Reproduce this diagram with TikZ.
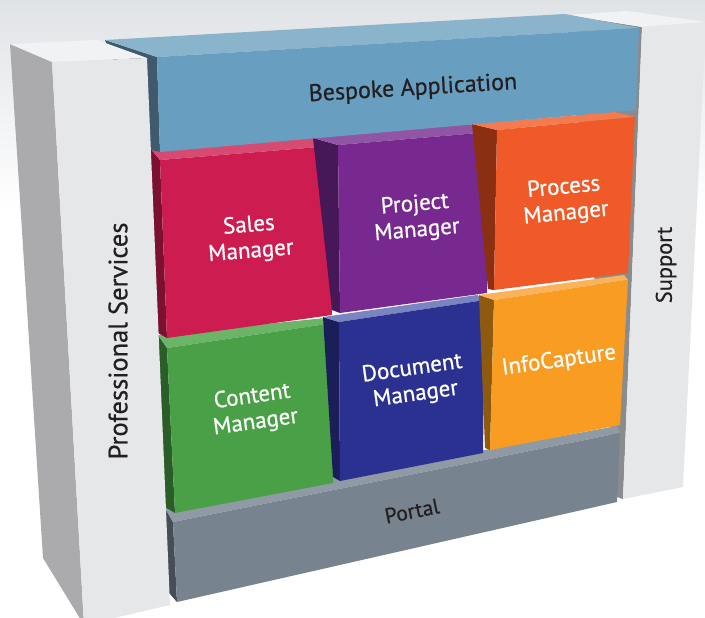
\documentclass[tikz,border=0pt]{standalone}
\usepackage{fontspec}
\setmainfont{PT Sans}[FakeBold=0.6]
\definecolor{bgTop}{HTML}{E0E3E6}
\definecolor{plF}{HTML}{E6E7E9}
\definecolor{plT}{HTML}{F1F2F4}
\definecolor{plS}{HTML}{ABABAD}
\definecolor{prS}{HTML}{8A8B8D}
\definecolor{bsF}{HTML}{689FC0}
\definecolor{bsT}{HTML}{8AB4CC}
\definecolor{bsS}{HTML}{3E5A6C}
\definecolor{saF}{HTML}{CD1D50}
\definecolor{saT}{HTML}{D74B72}
\definecolor{saS}{HTML}{7B1030}
\definecolor{pjF}{HTML}{77298F}
\definecolor{pjT}{HTML}{9155A5}
\definecolor{pjS}{HTML}{461857}
\definecolor{pcF}{HTML}{F05A28}
\definecolor{pcT}{HTML}{F47A50}
\definecolor{pcS}{HTML}{8A2F12}
\definecolor{ctF}{HTML}{49A046}
\definecolor{ctT}{HTML}{6CB468}
\definecolor{ctS}{HTML}{2B5D29}
\definecolor{dcF}{HTML}{2B3190}
\definecolor{dcT}{HTML}{7A84C0}
\definecolor{dcS}{HTML}{1A1F5A}
\definecolor{icF}{HTML}{F89D21}
\definecolor{icT}{HTML}{FAB35A}
\definecolor{icS}{HTML}{8E5A10}
\definecolor{poF}{HTML}{77838F}
\definecolor{poT}{HTML}{8F9AA5}
\definecolor{poS}{HTML}{454D56}
\definecolor{txtDark}{HTML}{231F20}
\begin{document}
\begin{tikzpicture}[x=1pt,y=-1pt,
  boxlabel/.style={font=\fontsize{23}{26}\selectfont, text=white, align=center, inner sep=0pt},
  darklabel/.style={text=txtDark, align=center, inner sep=0pt}]
\useasboundingbox (0,0) rectangle (705,618);
% background
\fill[white] (0,0) rectangle (705,618);
\shade[top color=bgTop, bottom color=white] (0,0) rectangle (705,210);
% right pillar (behind)
\fill[prS] (567,15) -- (642,27) -- (623,499) -- (617,497) -- cycle;
\fill[plT] (567,15) -- (627,11) -- (706,22) -- (642,27) -- cycle;
\fill[plF] (642,27) -- (706,22) -- (683,487) -- (623,499) -- cycle;
\node[darklabel, font=\fontsize{22.5}{25}\selectfont, rotate=90] (support) at (666,265) {Support};
% portal
\fill[poS] (165,508) -- (173,522) -- (177,602) -- (169,593) -- cycle;
\fill[poT] (165,508) -- (617,426) -- (620,433) -- (173,522) -- cycle;
\fill[poF] (173,522) -- (620,433) -- (617,502) -- (177,602) -- cycle;
\node[darklabel, font=\fontsize{21.5}{24}\selectfont, rotate=11.3] (portal) at (412,511) {Portal};
% bottom row: content
\fill[ctS] (158,335) -- (167,348) -- (175,513) -- (165,507) -- cycle;
\fill[ctT] (158,335) -- (325,318) -- (333,323) -- (167,348) -- cycle;
\fill[ctF] (167,348) -- (333,323) -- (333,483) -- (175,513) -- cycle;
\node[boxlabel, rotate=8] (content) at (254,410) {Content\\Manager};
% document
\fill[dcS] (323,317) -- (339,322) -- (340,481) -- (333,477) -- cycle;
\fill[dcT] (323,317) -- (477,295) -- (485,300) -- (339,322) -- cycle;
\fill[dcF] (339,322) -- (485,300) -- (483,453) -- (340,481) -- cycle;
\node[boxlabel, rotate=8] (document) at (414,382) {Document\\Manager};
% infocapture
\fill[icS] (479,295) -- (494,300) -- (490,450) -- (485,448) -- cycle;
\fill[icT] (479,295) -- (624,275) -- (628,280) -- (494,300) -- cycle;
\fill[icF] (494,300) -- (628,280) -- (620,425) -- (490,450) -- cycle;
\node[boxlabel, rotate=8] (infocap) at (559,361) {InfoCapture};
% top row: sales
\fill[saS] (150,148) -- (160,160) -- (167,338) -- (158,333) -- cycle;
\fill[saT] (150,148) -- (313,137) -- (331,146) -- (160,160) -- cycle;
\fill[saF] (160,160) -- (331,146) -- (332,315) -- (167,338) -- cycle;
\node[boxlabel, rotate=4.7] (sales) at (250,239) {Sales\\Manager};
% project
\fill[pjS] (313,138) -- (338,145) -- (340,313) -- (332,310) -- cycle;
\fill[pjT] (313,138) -- (470,124) -- (490,132) -- (338,145) -- cycle;
\fill[pjF] (338,145) -- (490,132) -- (487,293) -- (340,313) -- cycle;
\node[boxlabel, rotate=5] (project) at (416,218) {Project\\Manager};
% process
\fill[pcS] (472,124) -- (497,130) -- (494,290) -- (488,289) -- cycle;
\fill[pcT] (472,124) -- (615,112) -- (635,117) -- (497,130) -- cycle;
\fill[pcF] (497,130) -- (635,117) -- (628,273) -- (494,290) -- cycle;
\node[boxlabel, rotate=5.4] (process) at (565,201) {Process\\Manager};
% bespoke application
\fill[bsS] (105,40) -- (157,57) -- (160,152) -- (151,150) -- cycle;
\fill[bsT] (105,40) -- (565,14) -- (640,28) -- (157,57) -- cycle;
\fill[bsF] (157,57) -- (639,28) -- (636,110) -- (160,152) -- cycle;
\node[darklabel, font=\fontsize{24}{26}\selectfont, rotate=3.4] (bespoke) at (413,89) {Bespoke Application};
% left pillar (front)
\fill[plS] (10,44) -- (52,62) -- (84,625) -- (43,558) -- cycle;
\fill[plT] (10,44) -- (97,40) -- (147,58) -- (52,62) -- cycle;
\fill[plF] (52,62) -- (147,58) -- (170,605) -- (84,625) -- cycle;
\node[darklabel, font=\fontsize{26.5}{28}\selectfont, rotate=90] (profserv) at (118,341) {Professional Services};
\end{tikzpicture}
\end{document}
